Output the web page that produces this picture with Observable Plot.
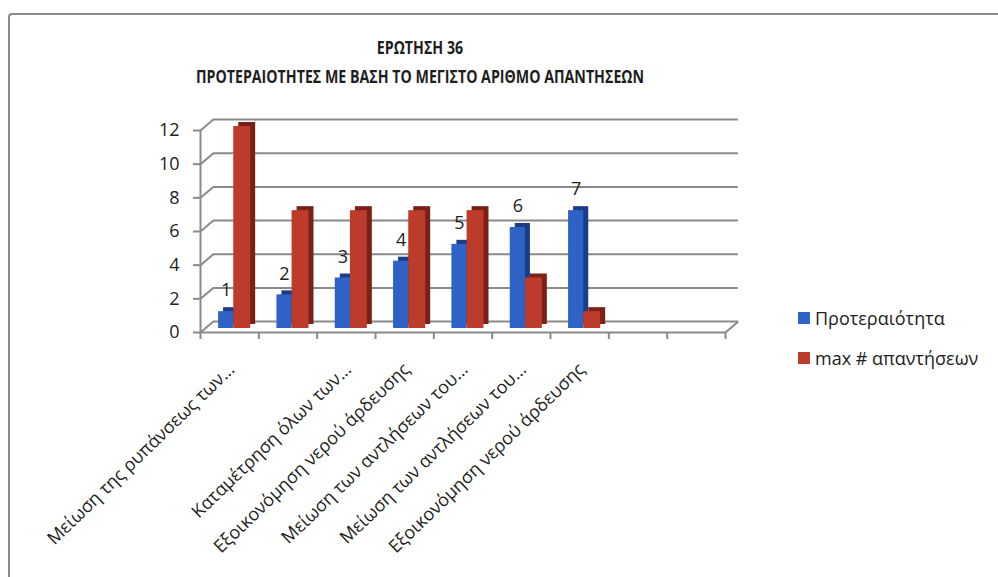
<!DOCTYPE html>
<html>
<head>
<meta charset="utf-8">
<script src="https://cdn.jsdelivr.net/npm/d3@7"></script>
<script src="https://cdn.jsdelivr.net/npm/@observablehq/plot@0.6"></script>
<style>
  html, body { margin: 0; padding: 0; background: #fff; }
  #wrap { position: relative; width: 998px; height: 577px; overflow: hidden; font-family: "Open Sans", sans-serif; color: #222; }
  #border { position: absolute; left: 8px; top: 13px; width: 1100px; height: 700px; border-left: 2.5px solid #8a8a8a; border-top: 2.5px solid #8a8a8a; border-radius: 4px 0 0 0; }
  #title { position: absolute; left: 9px; width: 822px; top: 33px; text-align: center; font-weight: 700; font-size: 17px; line-height: 29px; color: #1e1e1e; transform: scaleX(0.835); transform-origin: 411px 0; }
  #chart { position: absolute; left: 0; top: 0; }
  #legend { position: absolute; left: 798px; top: 303px; font-size: 18px; color: #222; }
  #legend .item { display: flex; align-items: center; height: 30px; margin-bottom: 10px; }
  #legend .sw { width: 12px; height: 12px; margin-right: 5px; }
</style>
</head>
<body>
<div id="wrap">
  <div id="border"></div>
  <div id="title">ΕΡΩΤΗΣΗ 36<br>ΠΡΟΤΕΡΑΙΟΤΗΤΕΣ ΜΕ ΒΑΣΗ ΤΟ ΜΕΓΙΣΤΟ ΑΡΙΘΜΟ ΑΠΑΝΤΗΣΕΩΝ</div>
  <div id="chart"></div>
  <div id="legend"></div>
</div>
<script>
// ---- data ----
const categories = [
  "Μείωση της ρυπάνσεως των...",
  "",
  "Καταμέτρηση όλων των...",
  "Εξοικονόμηση νερού άρδευσης",
  "Μείωση των αντλήσεων του...",
  "Μείωση των αντλήσεων του...",
  "Εξοικονόμηση νερού άρδευσης",
  "",
  ""
];
const seriesNames = ["Προτεραιότητα", "max # απαντήσεων"];
const priority = [1, 2, 3, 4, 5, 6, 7];
const maxAnswers = [12, 7, 7, 7, 7, 3, 1];
const yTicks = [0, 2, 4, 6, 8, 10, 12];

// ---- styling ----
const colors = { front: ["#2f62c6", "#bd3b2b"], side: ["#1b3c86", "#7a2117"] };
const DX = 0.22, DY = 0.65; // depth of the 3D wall, in data units
const gridColor = "#8a8a8a";

const nCat = categories.length;
const catIdx = d3.range(nCat);
const boundaries = d3.range(nCat + 1);
const blue = priority.map((v, i) => ({ i, v, x1: i + 0.31, x2: i + 0.57 }));
const red = maxAnswers.map((v, i) => ({ i, v, x1: i + 0.57, x2: i + 0.86 }));

const plot = Plot.plot({
  width: 998,
  height: 577,
  marginLeft: 200,
  marginRight: 273,
  marginTop: 130,
  marginBottom: 245,
  style: { fontFamily: "Open Sans, sans-serif", fontSize: "18px", color: "#222", background: "transparent", overflow: "visible" },
  x: { type: "linear", domain: [0, nCat], axis: null },
  y: { domain: [0, 12], axis: null },
  marks: [
    // back wall gridlines (incl. floor back edge)
    Plot.ruleY(yTicks, { y: d => d + DY, x1: DX, x2: nCat + DX, stroke: gridColor, strokeWidth: 2 }),
    // left depth connectors
    Plot.link(yTicks, { x1: 0, y1: d => d, x2: DX, y2: d => d + DY, stroke: gridColor, strokeWidth: 2 }),
    // right floor connector
    Plot.link([0], { x1: nCat, y1: 0, x2: nCat + DX, y2: DY, stroke: gridColor, strokeWidth: 2 }),
    // floor front edge
    Plot.ruleY([0], { x1: 0, x2: nCat, stroke: gridColor, strokeWidth: 2 }),
    // left axis line
    Plot.ruleX([0], { y1: 0, y2: 12, stroke: gridColor, strokeWidth: 2 }),
    // y ticks and labels
    Plot.axisY({ ticks: yTicks, tickSize: 7, tickPadding: 14, stroke: gridColor, strokeWidth: 2, fontSize: 18, fill: "#222", label: null }),
    // x ticks at category boundaries
    Plot.axisX({ ticks: boundaries, tickSize: 7, tickFormat: () => "", stroke: gridColor, strokeWidth: 2, label: null }),
    // bars: shaded depth then front face
    Plot.rectY(blue, { x1: "x1", x2: "x2", y1: 0, y2: "v", fill: colors.side[0], dx: 5, dy: -8 }),
    Plot.rectY(blue, { x1: "x1", x2: "x2", y1: 0, y2: "v", fill: colors.front[0], dy: -4 }),
    Plot.rectY(red, { x1: "x1", x2: "x2", y1: 0, y2: "v", fill: colors.side[1], dx: 5, dy: -8 }),
    Plot.rectY(red, { x1: "x1", x2: "x2", y1: 0, y2: "v", fill: colors.front[1], dy: -4 }),
    // value labels above blue bars
    Plot.text(blue, { x: d => (d.x1 + d.x2) / 2, y: "v", text: d => String(d.v), dy: -25, fontSize: 18, fill: "#222" }),
    // category labels
    Plot.text(catIdx, { x: i => i + 0.5, y: 0, text: i => categories[i], rotate: -44, textAnchor: "end", dx: 2, dy: 34, fontSize: 18, fill: "#222" })
  ]
});
document.getElementById("chart").appendChild(plot);

const legend = document.getElementById("legend");
seriesNames.forEach((name, k) => {
  const item = document.createElement("div");
  item.className = "item";
  const sw = document.createElement("div");
  sw.className = "sw";
  sw.style.background = colors.front[k];
  const t = document.createElement("span");
  t.textContent = name;
  item.appendChild(sw);
  item.appendChild(t);
  legend.appendChild(item);
});
</script>
</body>
</html>
